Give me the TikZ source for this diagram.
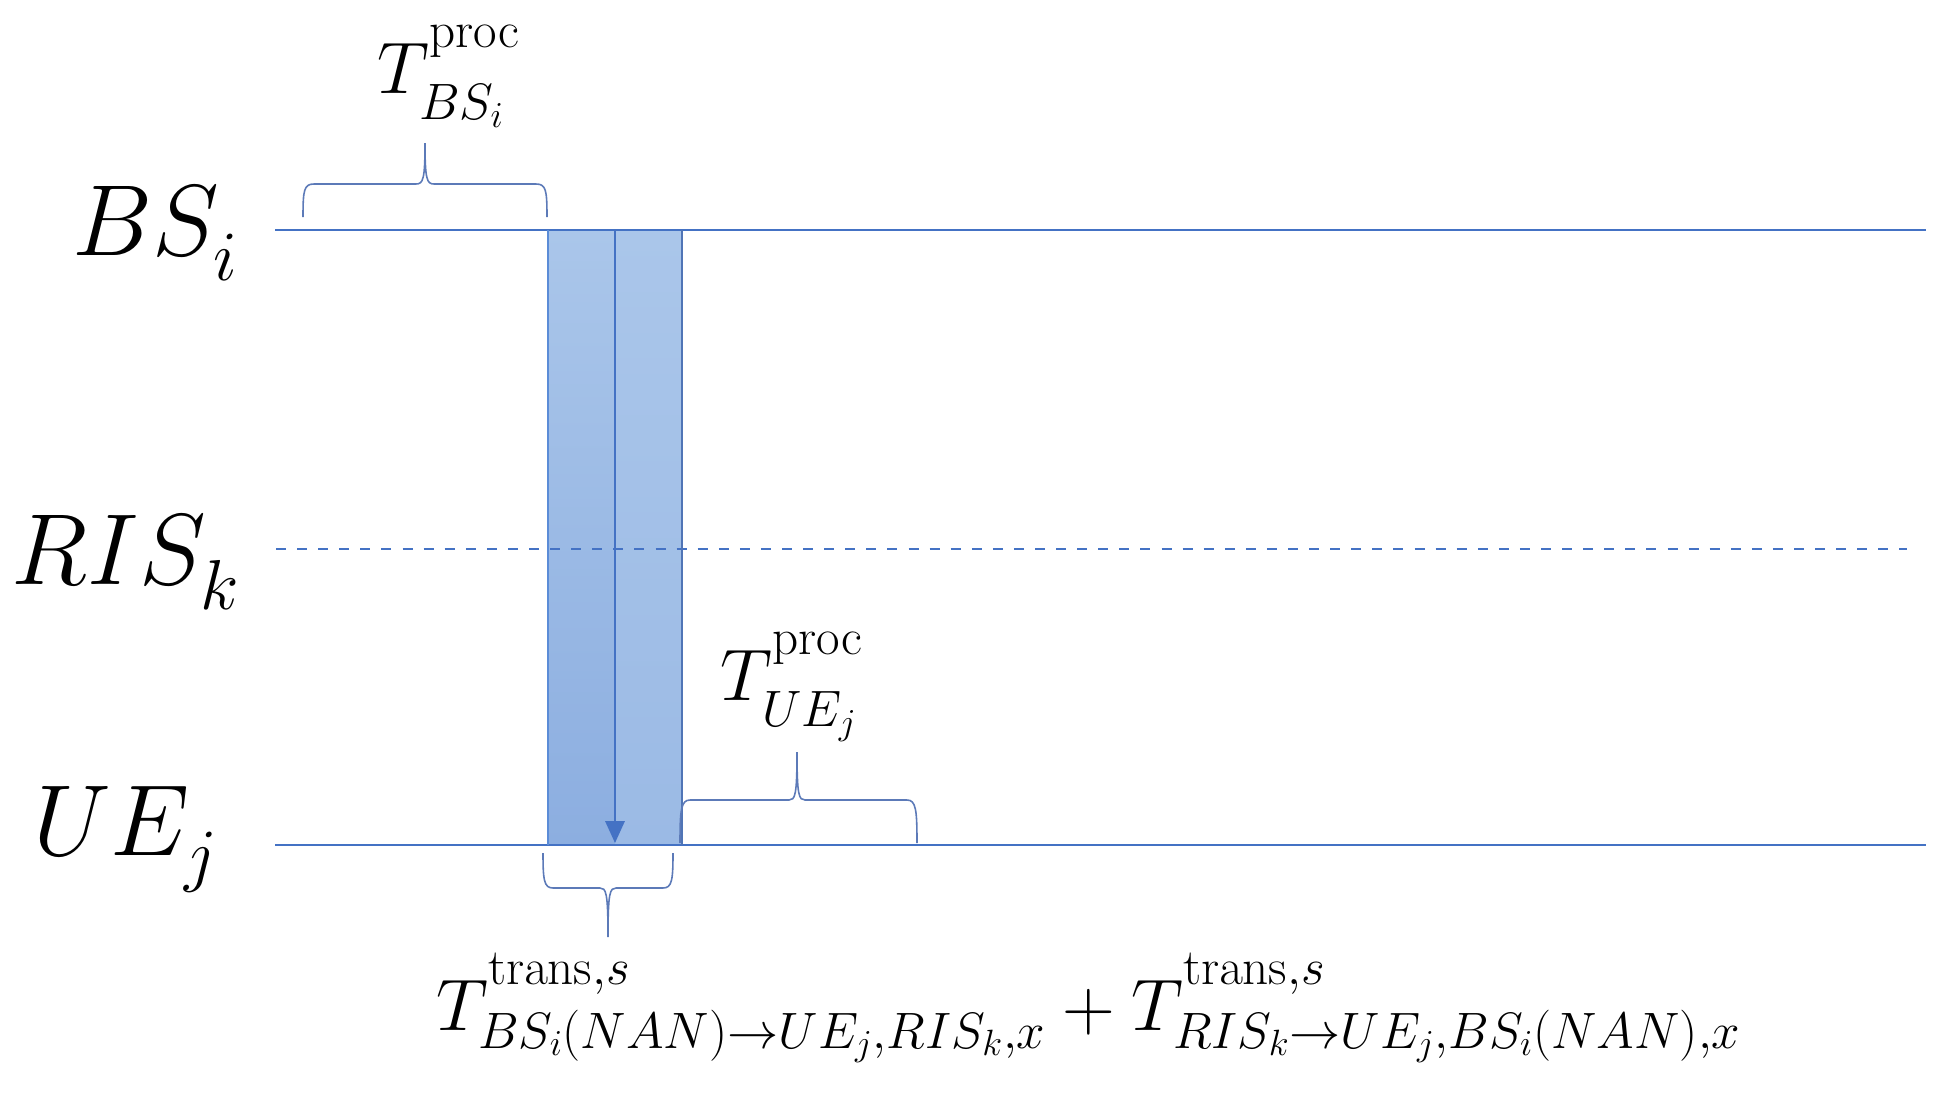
\documentclass[tikz,border=0pt]{standalone}
\usepackage{fix-cm}
\usetikzlibrary{arrows.meta}
\definecolor{lineblue}{RGB}{68,114,196}
\definecolor{edgeblue}{RGB}{91,140,215}
\definecolor{bracecol}{RGB}{92,122,184}
\definecolor{fillTop}{RGB}{170,198,234}
\definecolor{fillBotA}{RGB}{140,174,224}
\definecolor{fillBotB}{RGB}{155,186,229}
\newcommand\mysup[1]{\raisebox{0.26em}{$\scriptstyle #1$}}
\newcommand\mysub[1]{\raisebox{-0.12em}{$\scriptstyle #1$}}
\tikzset{
  lifeline/.style={draw=lineblue, line width=1.3pt},
  dashline/.style={draw=lineblue, line width=1.2pt, dash pattern=on 5.7pt off 6.3pt},
  bracepath/.style={draw=bracecol, line width=0.9pt},
  biglbl/.style={inner sep=0pt, font=\fontsize{57.5}{69}\selectfont},
  tlbl/.style={inner sep=0pt, font=\fontsize{41.6}{50}\selectfont},
}
\begin{document}
\begin{tikzpicture}[x=0.02cm,y=-0.02cm]
\useasboundingbox (0,0) rectangle (1948,1096);
% lifeline end points
\coordinate (bsL) at (275,230);  \coordinate (bsR) at (1926,230);
\coordinate (risL) at (276,549); \coordinate (risR) at (1907,549);
\coordinate (ueL) at (275,845);  \coordinate (ueR) at (1926,845);
% transmission block
\coordinate (rA) at (548,230); \coordinate (rM) at (615,230); \coordinate (rB) at (682,230);
\coordinate (rAb) at (548,845); \coordinate (rMb) at (615,843); \coordinate (rBb) at (682,845);
\shade[top color=fillTop, bottom color=fillBotA] (rA) rectangle (615,845);
\shade[top color=fillTop, bottom color=fillBotB] (rM) rectangle (rBb);
% lines
\path[lifeline] (bsL) -- (bsR);
\path[dashline] (risL) -- (risR);
\path[lifeline] (ueL) -- (ueR);
\draw[draw=edgeblue, line width=1.3pt] (rA) -- (rAb);
\draw[draw=lineblue!80!gray, line width=1.1pt] (rB) -- (rBb);
\draw[draw=lineblue, line width=1.3pt, -{Triangle[length=12.5pt,width=11pt]}] (rM) -- (rMb);
% labels
\node[biglbl, anchor=base east] (bs) at (238,255) {$BS_{\raisebox{-0.1em}{$\scriptstyle i$}}$};
\node[biglbl, anchor=base east] (ris) at (240,584) {$RIS_{\raisebox{-0.1em}{$\scriptstyle k$}}$};
\node[biglbl, anchor=base east] (ue) at (218,855) {$UE_{\raisebox{-0.08em}{$\scriptstyle j$}}$};
% braces
\draw[bracepath] (303,217) .. controls (303,190) and (304,184) .. (314,184) -- (416,184)
  .. controls (423,184) and (425,180) .. (425,143)
  .. controls (425,180) and (427,184) .. (434,184) -- (536,184)
  .. controls (546,184) and (547,190) .. (547,217);
\coordinate (tipBS) at (425,143);
\draw[bracepath] (680,843) .. controls (680,810) and (681,800) .. (690,800) -- (789,800)
  .. controls (795,800) and (797,796) .. (797,752)
  .. controls (797,796) and (799,800) .. (805,800) -- (907,800)
  .. controls (916,800) and (917,810) .. (917,843);
\coordinate (tipUE) at (797,752);
\draw[bracepath] (543,853) .. controls (543,880) and (544,888) .. (553,888) -- (600,888)
  .. controls (606,888) and (608,892) .. (608,937)
  .. controls (608,892) and (610,888) .. (616,888) -- (663,888)
  .. controls (672,888) and (673,880) .. (673,853);
\coordinate (tipTR) at (608,937);
\node[tlbl, anchor=base west] (tbs) at (377,93) {$T_{\mysub{BS_i}}^{\mysup{\mathrm{proc}}}$};
\node[tlbl, anchor=base west] (tue) at (720,700) {$T_{\mysub{UE_j}}^{\mysup{\mathrm{proc}}}$};
\node[tlbl, anchor=base west] (ttr) at (436,1030)
  {$T_{BS_i(NAN)\to UE_j,RIS_k,x}^{\mysup{\mathrm{trans},s}}+T_{RIS_k\to UE_j,BS_i(NAN),x}^{\mysup{\mathrm{trans},s}}$};
\end{tikzpicture}
\end{document}
